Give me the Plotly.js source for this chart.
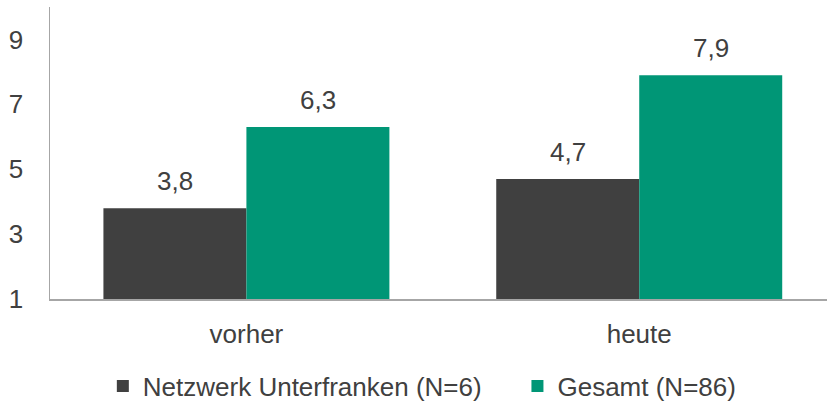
<!DOCTYPE html>
<html><head><meta charset="utf-8">
<script src="https://cdn.plot.ly/plotly-3.0.1.min.js"></script>
<style>html,body{margin:0;padding:0;background:#fff}#chart{width:827px;height:403px}</style>
</head><body><div id="chart"></div>
<script>
const categories = ["vorher", "heute"];
const seriesNames = ["Netzwerk Unterfranken (N=6)", "Gesamt (N=86)"];
const netzwerk = [3.8, 4.7];
const gesamt = [6.3, 7.9];
const yTicks = [1, 3, 5, 7, 9];

const colors = ["#404040", "#009676"];
const font = "Liberation Sans, Arial, sans-serif";
const txt = "#404040";
const fs = 26;
const fmt = v => v.toFixed(1).replace(".", ",");

const barGap = 0.272;
const barW = (1 - barGap) / 2;
const series = [netzwerk, gesamt];
const legendIds = ["legend", "legend2"];

const traces = series.map((vals, s) => ({
  type: "bar", x: categories, y: vals, name: seriesNames[s],
  marker: {color: colors[s], line: {width: 0}},
  legend: legendIds[s],
  hoverinfo: "none"
}));

const annotations = [];
series.forEach((vals, s) => vals.forEach((v, i) => {
  annotations.push({
    x: i + (s === 0 ? -barW / 2 : barW / 2), y: v, xref: "x", yref: "y",
    text: fmt(v), showarrow: false, yanchor: "bottom", yshift: 10,
    font: {family: font, size: fs, color: txt}
  });
}));

const legendBase = {
  orientation: "h", xanchor: "left", xref: "paper",
  y: 0.1, yanchor: "top", yref: "container",
  font: {family: font, size: fs, color: txt},
  itemwidth: 30
};

const layout = {
  width: 827, height: 403,
  margin: {l: 49.5, r: 0, t: 7, b: 104},
  paper_bgcolor: "#fff", plot_bgcolor: "#fff",
  barmode: "group", bargap: barGap, bargroupgap: 0,
  font: {family: font, size: fs, color: txt},
  xaxis: {
    type: "category", range: [-0.5, 1.478],
    showline: true, linecolor: "#a6a6a6", linewidth: 1.5,
    ticks: "", ticklabelstandoff: 11, showgrid: false, zeroline: false,
    tickfont: {family: font, size: fs, color: txt}
  },
  yaxis: {
    range: [1, 10], tickvals: yTicks, ticktext: yTicks.map(String),
    showline: true, linecolor: "#a6a6a6", linewidth: 1.5,
    ticks: "", ticklabelstandoff: 20, showgrid: false, zeroline: false,
    tickfont: {family: font, size: fs, color: txt}
  },
  showlegend: true,
  legend: Object.assign({}, legendBase, {x: 0.068}),
  legend2: Object.assign({}, legendBase, {x: 0.6016}),
  annotations: annotations
};

Plotly.newPlot("chart", traces, layout, {staticPlot: true, displayModeBar: false});
</script></body></html>
